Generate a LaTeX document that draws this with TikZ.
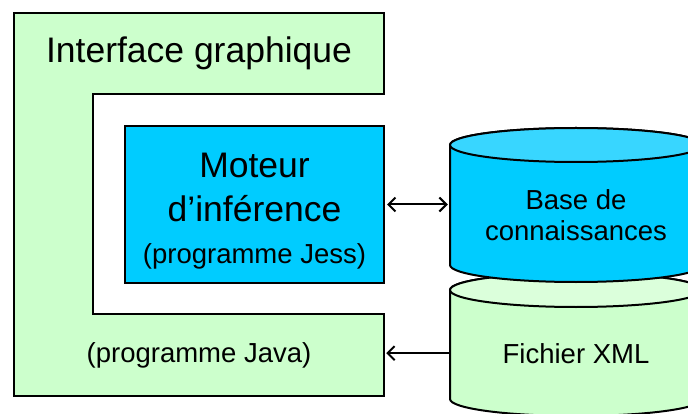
\documentclass[tikz,border=0pt]{standalone}
\usepackage{fontspec}
\setmainfont{Liberation Sans}
\usetikzlibrary{arrows.meta,positioning}
\definecolor{ArchGreen}{HTML}{CCFFCC}
\definecolor{ArchGreenTop}{HTML}{DBFFDB}
\definecolor{ArchBlue}{HTML}{00CCFF}
\definecolor{ArchBlueTop}{HTML}{38D6FF}
\tikzset{
  archline/.style={draw=black,line width=2pt,line join=miter},
  archbig/.style={
    font=\fontsize{35.5}{44}\selectfont,
    align=center,
    inner sep=0pt
  },
  archsmall/.style={
    font=\fontsize{27.5}{31}\selectfont,
    align=center,
    inner sep=0pt
  },
  archengine/.style={
    archline,
    archbig,
    fill=ArchBlue,
    minimum width=259pt,
    minimum height=157pt
  },
  archdb/.style={archsmall,minimum width=252pt}
}

\begin{document}
\begin{tikzpicture}[x=1pt,y=-1pt,>={Straight Barb[length=7pt,width=14pt]}]
  \useasboundingbox (0,0) rectangle (688,414);
  % interface graphique
  \draw[archline,fill=ArchGreen] (14,13) -- (384,13) -- (384,94) -- (93,94) -- (93,314)
    -- (384,314) -- (384,396) -- (14,396) -- cycle;
  \node[archbig,minimum width=370pt,anchor=base] (gui) at (199,63) {Interface graphique};
  \node[archsmall,minimum width=370pt,anchor=base] (java) at (199,362) {(programme Java)};
  % moteur
  \node[archengine] (engine) at (254.5,204.5)
    {\rule{0pt}{38.5pt}Moteur\\d’inférence\\[-2pt]{\fontsize{27.5}{31}\selectfont(programme Jess)}};
  % fichier XML, puis base
  \draw[archline,fill=ArchGreen] (450,290) -- (450,399)
    arc[start angle=180,end angle=360,x radius=126pt,y radius=17pt] -- (702,290)
    arc[start angle=0,end angle=180,x radius=126pt,y radius=17pt] -- cycle;
  \draw[archline,fill=ArchGreenTop] (576,290) ellipse[x radius=126pt,y radius=17pt];
  \draw[archline,fill=ArchBlue] (450,145) -- (450,265)
    arc[start angle=180,end angle=360,x radius=126pt,y radius=17pt] -- (702,145)
    arc[start angle=0,end angle=180,x radius=126pt,y radius=17pt] -- cycle;
  \draw[archline,fill=ArchBlueTop] (576,145) ellipse[x radius=126pt,y radius=17pt];
  \node[archdb] (kbase) at (576,215) {Base de\\connaissances};
  \node[archdb,anchor=base] (xmlfile) at (576,363) {Fichier XML};
  % liens
  \draw[archline,<->,shorten <=2pt,shorten >=2pt] (engine.east) -- (engine.east -| kbase.west);
  \draw[archline,->,shorten >=2pt] (xmlfile.west) -- (xmlfile.west -| java.east);
\end{tikzpicture}
\end{document}
